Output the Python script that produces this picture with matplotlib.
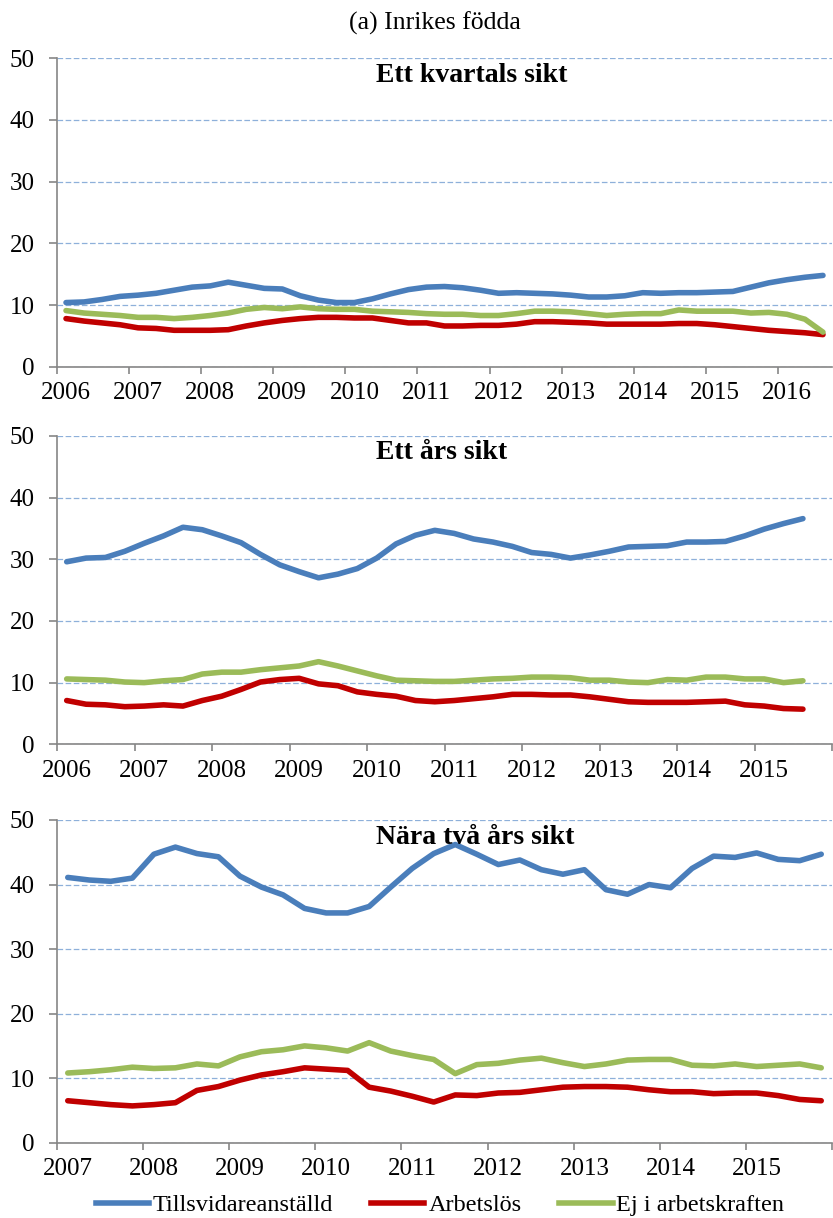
import matplotlib
matplotlib.use('Agg')
import matplotlib.pyplot as plt
from matplotlib.lines import Line2D

plt.rcParams['font.family'] = ['Liberation Serif', 'DejaVu Serif']

# quarterly shares, panel 1: 2006Q1-2016Q3
q1_years = ['2006', '2007', '2008', '2009', '2010', '2011', '2012', '2013', '2014', '2015', '2016']
q1_tills = [10.4, 10.5, 10.9, 11.4, 11.6, 11.9, 12.4, 12.9, 13.1, 13.7, 13.2, 12.7, 12.6, 11.5, 10.8,
            10.4, 10.4, 11.0, 11.8, 12.5, 12.9, 13.0, 12.8, 12.4, 11.9, 12.0, 11.9, 11.8, 11.6, 11.3,
            11.3, 11.5, 12.0, 11.9, 12.0, 12.0, 12.1, 12.2, 12.9, 13.6, 14.1, 14.5, 14.8]
q1_arb = [7.8, 7.4, 7.1, 6.8, 6.3, 6.2, 5.9, 5.9, 5.9, 6.0, 6.6, 7.1, 7.5, 7.8, 8.0,
          8.0, 7.9, 7.9, 7.5, 7.1, 7.1, 6.6, 6.6, 6.7, 6.7, 6.9, 7.3, 7.3, 7.2, 7.1,
          6.9, 6.9, 6.9, 6.9, 7.0, 7.0, 6.8, 6.5, 6.2, 5.9, 5.7, 5.5, 5.2]
q1_ej = [9.1, 8.7, 8.5, 8.3, 8.0, 8.0, 7.8, 8.0, 8.3, 8.7, 9.3, 9.6, 9.4, 9.7, 9.4,
         9.3, 9.3, 9.0, 8.9, 8.8, 8.6, 8.5, 8.5, 8.3, 8.3, 8.6, 9.0, 9.0, 8.9, 8.6,
         8.3, 8.5, 8.6, 8.6, 9.2, 9.0, 9.0, 9.0, 8.7, 8.8, 8.5, 7.7, 5.6]

# panel 2: 2006Q1-2015Q3 (axis runs to 2015Q4)
q2_years = ['2006', '2007', '2008', '2009', '2010', '2011', '2012', '2013', '2014', '2015']
q2_tills = [29.6, 30.2, 30.3, 31.3, 32.6, 33.8, 35.2, 34.8, 33.8, 32.7, 30.8, 29.1, 28.0, 27.0, 27.6,
            28.5, 30.2, 32.5, 33.9, 34.7, 34.2, 33.3, 32.8, 32.1, 31.1, 30.8, 30.2, 30.7, 31.3, 32.0,
            32.1, 32.2, 32.8, 32.8, 32.9, 33.8, 34.9, 35.8, 36.6]
q2_arb = [7.1, 6.5, 6.4, 6.1, 6.2, 6.4, 6.2, 7.1, 7.8, 8.9, 10.1, 10.5, 10.7, 9.8, 9.5,
          8.5, 8.1, 7.8, 7.1, 6.9, 7.1, 7.4, 7.7, 8.1, 8.1, 8.0, 8.0, 7.7, 7.3, 6.9,
          6.8, 6.8, 6.8, 6.9, 7.0, 6.4, 6.2, 5.8, 5.7]
q2_ej = [10.6, 10.5, 10.4, 10.1, 10.0, 10.3, 10.5, 11.4, 11.7, 11.7, 12.1, 12.4, 12.7, 13.4, 12.7,
         11.9, 11.1, 10.4, 10.3, 10.2, 10.2, 10.4, 10.6, 10.7, 10.9, 10.9, 10.8, 10.4, 10.4, 10.1,
         10.0, 10.5, 10.4, 10.9, 10.9, 10.6, 10.6, 10.0, 10.3]
q2_n = 40

# panel 3: 2007Q1-2015Q4
q3_years = ['2007', '2008', '2009', '2010', '2011', '2012', '2013', '2014', '2015']
q3_tills = [41.1, 40.7, 40.5, 41.0, 44.7, 45.8, 44.8, 44.3, 41.3, 39.6, 38.4, 36.3, 35.6, 35.6, 36.6,
            39.6, 42.5, 44.8, 46.2, 44.7, 43.1, 43.8, 42.3, 41.6, 42.3, 39.2, 38.5, 40.0, 39.5, 42.5,
            44.4, 44.2, 44.9, 43.9, 43.7, 44.7]
q3_arb = [6.5, 6.2, 5.9, 5.7, 5.9, 6.2, 8.1, 8.7, 9.7, 10.5, 11.0, 11.6, 11.4, 11.2, 8.6,
          8.0, 7.2, 6.3, 7.4, 7.3, 7.7, 7.8, 8.2, 8.6, 8.7, 8.7, 8.6, 8.2, 7.9, 7.9,
          7.6, 7.7, 7.7, 7.3, 6.7, 6.5]
q3_ej = [10.8, 11.0, 11.3, 11.7, 11.5, 11.6, 12.2, 11.9, 13.3, 14.1, 14.4, 15.0, 14.7, 14.2, 15.5,
         14.2, 13.5, 12.9, 10.7, 12.1, 12.3, 12.8, 13.1, 12.4, 11.8, 12.2, 12.8, 12.9, 12.9, 12.0,
         11.9, 12.2, 11.8, 12.0, 12.2, 11.6]

labels = ['Tillsvidareanställd', 'Arbetslös', 'Ej i arbetskraften']
colors = ['#4A7EBB', '#C00000', '#9BBB59']
titles = ['Ett kvartals sikt', 'Ett års sikt', 'Nära två års sikt']

W, H = 833, 1218
fig = plt.figure(figsize=(W / 100, H / 100), dpi=100)

# axes boxes in pixels: left, top, right, bottom
boxes = [(57, 58.3, 832, 366.7), (57, 436, 832, 744.3), (57, 820, 832, 1142.7)]
panels = [
    (q1_years, [q1_tills, q1_arb, q1_ej], len(q1_tills)),
    (q2_years, [q2_tills, q2_arb, q2_ej], q2_n),
    (q3_years, [q3_tills, q3_arb, q3_ej], len(q3_tills)),
]

fs = 18
for (l, t, r, b), (years, series, n), title in zip(boxes, panels, titles):
    ax = fig.add_axes([l / W, 1 - b / H, (r - l) / W, (b - t) / H])
    for vals, c in zip(series, colors):
        ax.plot(range(len(vals)), vals, color=c, lw=4.0, solid_capstyle='round',
                solid_joinstyle='round', zorder=3)
    ax.set_xlim(-0.5, n - 0.5)
    ax.set_ylim(0, 50)
    ax.set_yticks(range(0, 51, 10))
    ax.yaxis.grid(True, color='#8EB0DA', lw=0.9, ls=(0, (4.5, 2)))
    ax.set_axisbelow(True)
    # year labels sit on the first quarter, tick marks on year boundaries
    ax.set_xticks([4 * i for i in range(len(years))])
    ax.set_xticklabels(years)
    ax.set_xticks([4 * i - 0.5 for i in range(len(years) + 1) if 4 * i - 0.5 <= n - 0.5], minor=True)
    ax.tick_params(axis='x', which='major', length=0, pad=11, labelsize=fs)
    ax.tick_params(axis='x', which='minor', length=5, width=1.2, color='#868686')
    ax.tick_params(axis='y', length=6, width=1.2, color='#868686', pad=10, labelsize=fs)
    for s in ['top', 'right']:
        ax.spines[s].set_visible(False)
    for s in ['left', 'bottom']:
        ax.spines[s].set_color('#868686')
        ax.spines[s].set_linewidth(1.2)
    fig.text(376 / W, 1 - (t + 17) / H, title, fontsize=20, fontweight='bold',
             ha='left', va='center', zorder=5)

fig.text(435 / W, 1 - 23 / H, '(a) Inrikes födda', fontsize=18.5, ha='center', va='center')

handles = [Line2D([], [], color=c, lw=4.0) for c in colors]
fig.legend(handles, labels, loc='center', bbox_to_anchor=(440 / W, 1 - 1205 / H), ncol=3,
           frameon=False, fontsize=17.5, handlelength=2.2, handletextpad=0.16, columnspacing=1.55,
           borderaxespad=0)

fig.savefig('out.png', dpi=100)
